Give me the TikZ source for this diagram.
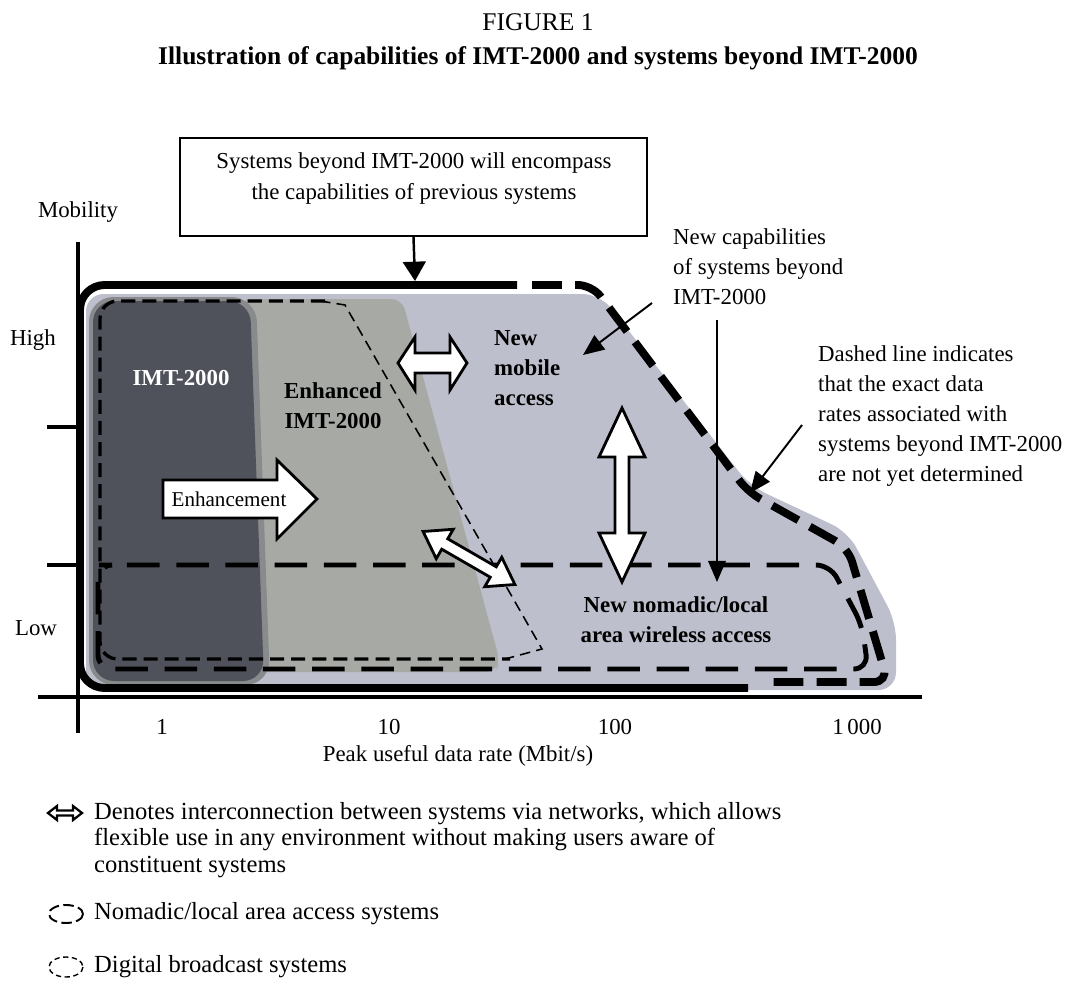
\documentclass[tikz,border=0pt]{standalone}
\usepackage{fontspec}
\setmainfont{Liberation Serif}
\usetikzlibrary{arrows.meta,positioning}
\definecolor{beyondfill}{HTML}{BDBFCC}
\definecolor{enhancedfill}{HTML}{A7A9A5}
\definecolor{imtfill}{HTML}{4F525B}
\tikzset{
    axis line/.style={line width=2.2pt},
    envelope line/.style={line width=4.5pt},
    envelope dashed/.style={envelope line,dash pattern=on 17pt off 7.5pt},
    nomadic line/.style={line width=2.8pt,dash pattern=on 18.5pt off 9.5pt},
    broadcast line/.style={line width=1.9pt,dash pattern=on 8pt off 4pt},
    broadcast thin/.style={line width=0.9pt,dash pattern=on 6pt off 3.5pt},
    blockarrow/.style={draw=black,fill=white,line width=1.6pt,line join=miter},
    arr/.style={-{Triangle[length=12pt,width=10pt]},line width=1.1pt},
    boxarr/.style={-{Triangle[length=11pt,width=13pt]},line width=1.4pt},
    chart text/.style={font=\fontsize{13}{17}\selectfont},
    chart bold/.style={font=\fontsize{13}{17}\selectfont\bfseries},
    title text/.style={font=\fontsize{14.5}{17}\selectfont},
    legend text/.style={font=\fontsize{14}{15.3}\selectfont,align=left,anchor=west},
}

\begin{document}
\begin{tikzpicture}[x=0.02cm,y=-0.02cm]
    \useasboundingbox (0,0) rectangle (1076,990);

    \node[title text] (fig) at (538,22) {FIGURE 1};
    \node[title text,font=\fontsize{14.5}{17}\selectfont\bfseries] (title) at (538,58)
        {Illustration of capabilities of IMT-2000 and systems beyond IMT-2000};

    % shaded capability areas
    \fill[beyondfill,rounded corners=10pt] (86,294) -- (600,294) -- (750,486)
        -- (848,532) -- (896,622) -- (896,690) -- (86,690) -- cycle;
    \fill[enhancedfill,rounded corners=6pt] (240,299) -- (402,299) -- (500,662)
        -- (495,672) -- (240,672) -- cycle;
    \fill[imtfill!35!enhancedfill,rounded corners=14pt] (89,297) -- (256,297) -- (270,685) -- (89,685) -- cycle;
    \fill[imtfill,rounded corners=12pt] (93,301) -- (250,301) -- (264,681) -- (93,681) -- cycle;

    % nomadic and broadcast outlines
    \draw[nomadic line,rounded corners=8pt] (113,565) -- (830,565) -- (862,625)
        -- (868,669) -- (98,669) -- (98,565) -- cycle;
    \draw[broadcast line,rounded corners=10pt] (325,301) -- (100,301) -- (100,659) -- (510,659);
    \draw[broadcast thin] (320,301) -- (345,305) -- (542,649) -- (505,659);

    % envelope of systems beyond IMT-2000
    \draw[envelope line,rounded corners=14pt] (517,285) -- (80,285) -- (80,688) -- (748,688);
    \draw[envelope dashed,rounded corners=8pt] (532,285) -- (592,285) -- (748,492)
        -- (848,548) -- (888,682) -- (767,682);

    % axes
    \draw[axis line] (78,242) -- (78,733);
    \draw[axis line] (38,697) -- (922,697);
    \foreach \yy in {427,565}
        \draw[axis line] (47,\yy) -- (78,\yy);

    \node[chart text] (mob) at (78,212) {Mobility};
    \node[chart text] (high) at (33,340) {High};
    \node[chart text] (low) at (36,628) {Low};
    \node[chart text] (r1) at (162,727) {1};
    \node[chart text] (r10) at (389,727) {10};
    \node[chart text] (r100) at (615,727) {100};
    \node[chart text] (r1000) at (857,727) {1\,000};
    \node[chart text] (xlab) at (458,756) {Peak useful data rate (Mbit/s)};

    % block arrows
    \draw[blockarrow] (163,480) -- (277,480) -- (277,460) -- (317,499)
        -- (277,539) -- (277,518) -- (163,518) -- cycle;
    \node[chart text,font=\fontsize{12}{14}\selectfont] (enh) at (229,499) {Enhancement};
    \draw[blockarrow] (398,363) -- (415,337) -- (415,353) -- (450,353) -- (450,337)
        -- (467,363) -- (450,390) -- (450,373) -- (415,373) -- (415,390) -- cycle;
    \draw[blockarrow] (622,408) -- (645,457) -- (629,457) -- (629,533) -- (645,533)
        -- (622,582) -- (599,533) -- (615,533) -- (615,457) -- (599,457) -- cycle;
    \begin{scope}[shift={(469,558)},rotate=-30]
        \draw[blockarrow] (-53,0) -- (-28,-17) -- (-28,-6) -- (28,-6) -- (28,-17)
            -- (53,0) -- (28,17) -- (28,6) -- (-28,6) -- (-28,17) -- cycle;
    \end{scope}

    % area labels
    \node[chart bold,text=white] (imt) at (181,378) {IMT-2000};
    \node[chart bold,align=center] (enhimt) at (333,406) {Enhanced\\IMT-2000};
    \node[chart bold,align=left,anchor=west] (mobile) at (488,368) {New\\mobile\\access};
    \node[chart bold,align=center] (nomadic) at (676,620) {New nomadic/local\\area wireless access};

    % callouts
    \node[draw,line width=1.1pt,minimum width=9.34cm,minimum height=1.96cm] (goalbox) at (413.5,187) {};
    \node[chart text,align=center,font=\fontsize{13}{17.6}\selectfont] (goaltext) at (414,179)
        {Systems beyond IMT-2000 will encompass\\the capabilities of previous systems};
    \coordinate (goaltip) at (415,281);
    \draw[boxarr] (goalbox.south) -- (goaltip);

    \node[chart text,align=left,anchor=west] (newcap) at (667,267)
        {New capabilities\\of systems beyond\\IMT-2000};
    \coordinate (capfoot) at (652,303);
    \coordinate (mobiletip) at (583,355);
    \coordinate (captop) at (717,320);
    \coordinate (nomadictip) at (717,582);
    \draw[arr] (capfoot) -- (mobiletip);
    \draw[arr] (captop) -- (nomadictip);

    \node[chart text,align=left,anchor=west] (dashnote) at (812,416)
        {Dashed line indicates\\that the exact data\\rates associated with\\systems beyond IMT-2000\\are not yet determined};
    \coordinate (dashfoot) at (802,425);
    \coordinate (dashtip) at (750,493);
    \draw[arr] (dashfoot) -- (dashtip);

    % legend
    \draw[line width=1.3pt,fill=white,line join=miter] (48,813) -- (57,806) -- (57,810.5) -- (73,810.5)
        -- (73,806) -- (82,813) -- (73,820) -- (73,815.5) -- (57,815.5) -- (57,820) -- cycle;
    \node[legend text] (legint) at (88,840)
        {Denotes interconnection between systems via networks, which allows\\flexible use in any environment without making users aware of\\constituent systems};
    \draw[line width=1.1pt,dash pattern=on 6pt off 2.5pt] (66,914) ellipse[x radius=17,y radius=9];
    \node[legend text] (legnomadic) at (88,914) {Nomadic/local area access systems};
    \draw[line width=0.8pt,dash pattern=on 3pt off 2pt] (66,967) ellipse[x radius=17,y radius=10];
    \node[legend text] (legbroadcast) at (88,967) {Digital broadcast systems};
\end{tikzpicture}
\end{document}
